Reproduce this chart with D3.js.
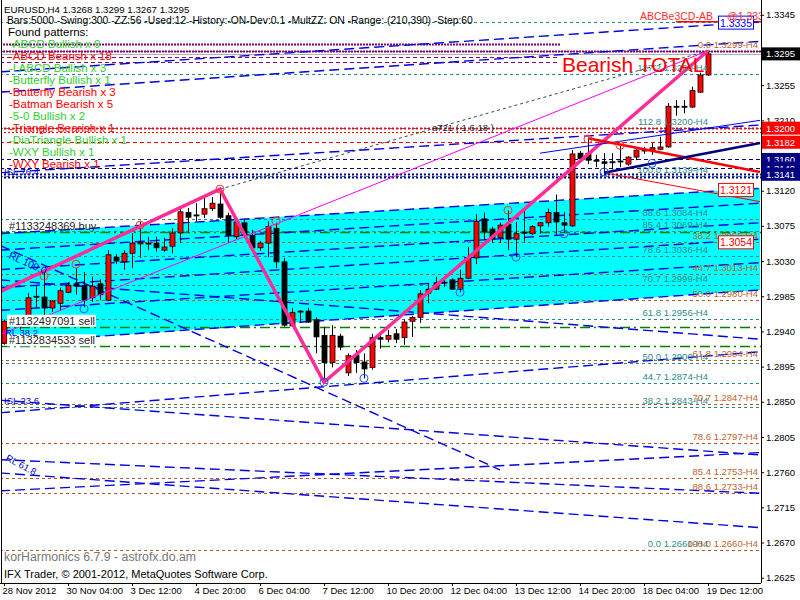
<!DOCTYPE html>
<html><head><meta charset="utf-8">
<script src="https://cdn.jsdelivr.net/npm/d3@7"></script>
<style>
body{margin:0;background:#fff}
svg{display:block}
text{font-family:"Liberation Sans",Arial,sans-serif}
</style></head>
<body><svg id="c" width="800" height="600"></svg>
<script>
// ---------- DATA ----------
const opens=[1.2925,1.2953,1.2955,1.2951,1.2985,1.2984,1.2970,1.2976,1.2990,1.3001,
1.2999,1.2983,1.3001,1.2980,1.3035,1.3029,1.3040,1.3052,1.3053,1.3053,
1.3044,1.3049,1.3066,1.3092,1.3089,1.3090,1.3097,1.3103,1.3088,1.3061,
1.3079,1.3063,1.3047,1.3053,1.3072,1.3029,1.2947,1.2965,1.2966,1.2955,
1.2935,1.2900,1.2934,1.2887,1.2910,1.2901,1.2894,1.2932,1.2930,1.2937,
1.2932,1.2953,1.2958,1.2989,1.2994,1.3003,1.3006,1.2994,1.3008,1.3034,
1.3084,1.3071,1.3060,1.3077,1.3058,1.3067,1.3065,1.3075,1.3079,1.3092,
1.3079,1.3075,1.3168,1.3168,1.3159,1.3157,1.3157,1.3158,1.3154,1.3163,
1.3172,1.3171,1.3173,1.3176,1.3228,1.3228,1.3227,1.3246,1.3268];
const highs=[1.2955,1.2960,1.2960,1.2989,1.2999,1.3015,1.2980,1.2996,1.3003,1.3021,
1.3016,1.3010,1.3007,1.3044,1.3039,1.3044,1.3066,1.3080,1.3061,1.3061,
1.3060,1.3072,1.3099,1.3098,1.3104,1.3112,1.3112,1.3122,1.3092,1.3083,
1.3084,1.3070,1.3056,1.3081,1.3079,1.3034,1.2970,1.2967,1.2970,1.2958,
1.2946,1.2948,1.2937,1.2912,1.2916,1.2912,1.2937,1.2938,1.2942,1.2943,
1.2955,1.2960,1.2993,1.3002,1.3010,1.3010,1.3008,1.3019,1.3048,1.3090,
1.3092,1.3074,1.3079,1.3095,1.3080,1.3095,1.3076,1.3080,1.3097,1.3115,
1.3093,1.3172,1.3171,1.3186,1.3166,1.3168,1.3168,1.3177,1.3164,1.3175,
1.3176,1.3181,1.3189,1.3232,1.3236,1.3236,1.3253,1.3271,1.3299];
const lows=[1.2923,1.2946,1.2942,1.2948,1.2970,1.2946,1.2965,1.2967,1.2989,1.2987,
1.2971,1.2978,1.2980,1.2979,1.3026,1.3019,1.3021,1.3034,1.3044,1.3042,
1.3042,1.3040,1.3053,1.3066,1.3081,1.3085,1.3094,1.3084,1.3054,1.3058,
1.3060,1.3042,1.3043,1.3035,1.3021,1.2946,1.2946,1.2952,1.2951,1.2912,
1.2875,1.2894,1.2916,1.2883,1.2887,1.2880,1.2891,1.2918,1.2926,1.2925,
1.2923,1.2933,1.2951,1.2976,1.2993,1.2997,1.2993,1.2990,1.3007,1.3026,
1.3057,1.3053,1.3053,1.3044,1.3035,1.3054,1.3063,1.3065,1.3074,1.3063,
1.3066,1.3074,1.3157,1.3154,1.3150,1.3143,1.3147,1.3150,1.3152,1.3159,
1.3167,1.3166,1.3172,1.3175,1.3216,1.3219,1.3226,1.3245,1.3267];
const closes=[1.2953,1.2952,1.2951,1.2983,1.2984,1.2970,1.2979,1.2992,1.2999,1.2998,
1.2980,1.2998,1.2987,1.3038,1.3030,1.3040,1.3053,1.3054,1.3052,1.3047,
1.3048,1.3066,1.3093,1.3086,1.3088,1.3097,1.3104,1.3086,1.3063,1.3080,
1.3063,1.3047,1.3053,1.3074,1.3029,1.2948,1.2964,1.2966,1.2952,1.2933,
1.2900,1.2935,1.2920,1.2909,1.2900,1.2892,1.2932,1.2930,1.2935,1.2930,
1.2952,1.2958,1.2988,1.2994,1.3002,1.3002,1.2994,1.3008,1.3034,1.3081,
1.3068,1.3058,1.3076,1.3058,1.3065,1.3066,1.3074,1.3079,1.3092,1.3080,
1.3076,1.3167,1.3161,1.3159,1.3158,1.3155,1.3156,1.3157,1.3163,1.3172,
1.3171,1.3175,1.3176,1.3228,1.3227,1.3227,1.3248,1.3268,1.3295];

const priceTicks=[1.3345,1.3300,1.3255,1.3210,1.3165,1.3120,1.3075,1.3030,1.2985,1.2940,1.2895,1.2850,1.2805,1.2760,1.2715,1.2670,1.2625];
const timeTickBars=[0,8,16,24,32,40,48,56,64,72,80,88];
const timeLabels=["28 Nov 2012","30 Nov 04:00","3 Dec 12:00","4 Dec 20:00","6 Dec 04:00","7 Dec 12:00","10 Dec 20:00","12 Dec 04:00","13 Dec 12:00","14 Dec 20:00","18 Dec 04:00","19 Dec 12:00"];

const tealFibPrices=[1.2660,1.2843,1.2874,1.2900,1.2956,1.2999,1.3036,1.3069,1.3084,1.3139,1.3200,1.3269];
const tealFibLabels=["0.0","38.2","44.7","50.0","61.8","70.7","78.6","85.4","88.6","100.0","112.8","127.2"];
const brownFibPrices=[1.3299,1.3055,1.3013,1.2980,1.2904,1.2847,1.2797,1.2753,1.2733,1.2660];
const brownFibLabels=["0.0","38.2","44.7","50.0","61.8","70.7","78.6","85.4","88.6","100.0"];
const redLevelPrices=[1.3200,1.3195,1.3182];
const navyLevelPrices=[1.3160,1.3149,1.3141,1.3138];
const purpleLevelPrices=[1.3308,1.3299,1.3291,1.3285];
const targetLevelPrice=1.3336;
const bidPrice=1.3295;
const orderPrices=[1.3067,1.2946,1.2921];
const orderLabels=["#1133248369 buy","#1132497091 sell","#1132834533 sell"];

const channelTop=[[-0.5,1.3065],[94.5,1.3123]];
const channelBottom=[[-0.5,1.2925],[94.5,1.2993]];

const blueDashLines=[
 [-0.5,1.3272,94.5,1.3336],
 [-0.5,1.3246,94.5,1.3311],
 [-0.5,1.3143,94.5,1.3204],
 [-0.5,1.3065,94.5,1.3123],
 [-0.5,1.3044,94.5,1.3104],
 [-0.5,1.3019,94.5,1.3079],
 [-0.5,1.2996,94.5,1.3058],
 [-0.5,1.2967,94.5,1.3028],
 [-0.5,1.2925,94.5,1.2993],
 [-0.5,1.3050,62,1.2763],
 [-0.5,1.2852,94.5,1.2782],
 [-0.5,1.2836,94.5,1.2914],
 [-0.5,1.2736,94.5,1.2785],
 [-0.5,1.2776,94.5,1.2733],
 [-0.5,1.2759,94.5,1.2689],
 [-0.5,1.3006,94.5,1.2930]
];
const zigzagPink=[[-8,1.2955],[27,1.3122],[40,1.2875],[88,1.3299]];
const magentaLine=[[-1,1.2934],[88,1.3299]];
const grayDashLine=[[27,1.3122],[88,1.3299]];
const redThick=[[73,1.3187],[94.5,1.3144]];
const redThin=[[75,1.3143],[94.5,1.3106]];
const navyThick=[[75,1.3143],[94.5,1.3181]];
const blueThin=[[67,1.3168],[94.5,1.3210]];

const redCircles=[[5,1.3011],[9,1.3026],[17,1.3076],[27,1.3122],[34,1.3081],[63,1.3095],[73,1.3186],[77,1.3178]];
const blueCircles=[[10,1.2969],[40,1.2875],[45,1.2880],[57,1.2990],[64,1.3035],[70,1.3065],[75,1.3144],[81,1.3155]];

const patternNames=["-ABCD Bullish x 9","-ABCD Bearish x 18","-I ABCD Bullish x 3","-Butterfly Bullish x 1","-Butterfly Bearish x 3","-Batman Bearish x 5","-5-0 Bullish x 2","-Triangle Bearish x 1","-DiaTriangle Bullish x 1","-WXY Bullish x 1","-WXY Bearish x 1"];
const patternBull=[1,0,1,1,0,0,1,0,1,1,0];

const redBoxes=[1.3200,1.3182];
const navyBoxes=[1.3160,1.3149,1.3141];

// ---------- DRAW ----------
const svg=d3.select("#c");
const plotR=761, plotB=583;
const x=d3.scaleLinear().domain([0,88]).range([4,708]);
const y=d3.scaleLinear().domain([1.2625,1.3345]).range([577.7,14.8]);

svg.append("rect").attr("width",800).attr("height",600).attr("fill","#fff");
const defs=svg.append("defs");
defs.append("clipPath").attr("id","plot").append("rect").attr("x",2).attr("y",0).attr("width",plotR-2).attr("height",plotB);
const P=svg.append("g").attr("clip-path","url(#plot)");

// cyan channel
const chan=[[channelTop[0][0],channelTop[0][1]],[channelTop[1][0],channelTop[1][1]],[channelBottom[1][0],channelBottom[1][1]],[channelBottom[0][0],channelBottom[0][1]]];
P.append("path").attr("d",d3.line().x(d=>x(d[0])).y(d=>y(d[1]))(chan)+"Z").attr("fill","#00FFFF");

function hline(p,color,dash,w,x0,x1){
  P.append("line").attr("x1",x0==null?0:x0).attr("x2",x1==null?plotR:x1)
   .attr("y1",Math.round(y(p))+0.5).attr("y2",Math.round(y(p))+0.5)
   .attr("stroke",color).attr("stroke-width",w||1).attr("stroke-dasharray",dash);
}
// horizontal levels
tealFibPrices.forEach(p=>hline(p,"#1E8A8A","3,3"));
brownFibPrices.forEach(p=>hline(p,"#B0582A","3,3"));
hline(targetLevelPrice,"#1E8A8A","3,3");
hline(purpleLevelPrices[0],"#800080","2,1",2,0,560);
hline(purpleLevelPrices[1],"#800080","2,1",2);
hline(purpleLevelPrices[2],"#800080","4,3",1,0,560);
hline(purpleLevelPrices[3],"#800080","4,3",1,0,560);
hline(bidPrice,"#B0B0B0",null,1);
hline(redLevelPrices[0],"#FF0000","2,2",2);
hline(redLevelPrices[1],"#FF0000","2,2",1);
hline(redLevelPrices[2],"#FF0000","4,3",1);
hline(navyLevelPrices[0],"#000080","4,3",1);
hline(navyLevelPrices[1],"#000080","4,3",1);
hline(navyLevelPrices[2],"#000080","2,2",2);
hline(navyLevelPrices[3],"#000080","2,2",2);
orderPrices.forEach(p=>hline(p,"#008000","10,4,2,4",1.5));
P.append("line").attr("x1",x(84)).attr("x2",plotR).attr("y1",y(targetLevelPrice)).attr("y2",y(targetLevelPrice)).attr("stroke","#FF0000").attr("stroke-width",1.5);

// blue dashed sloped lines
P.selectAll(".bl").data(blueDashLines).enter().append("line")
 .attr("x1",d=>x(d[0])).attr("y1",d=>y(d[1])).attr("x2",d=>x(d[2])).attr("y2",d=>y(d[3]))
 .attr("stroke","#0000E0").attr("stroke-width",1.4).attr("stroke-dasharray","10,5");

// candles
const bars=d3.range(opens.length);
const cg=P.append("g");
cg.selectAll(".w").data(bars).enter().append("line")
 .attr("x1",i=>Math.round(x(i))+0.5).attr("x2",i=>Math.round(x(i))+0.5)
 .attr("y1",i=>y(highs[i])).attr("y2",i=>y(lows[i])).attr("stroke","#000").attr("stroke-width",1);
cg.selectAll(".b").data(bars).enter().append("rect")
 .attr("x",i=>Math.round(x(i))-2).attr("width",5)
 .attr("y",i=>Math.min(y(opens[i]),y(closes[i])))
 .attr("height",i=>Math.max(1,Math.abs(y(opens[i])-y(closes[i]))))
 .attr("fill",i=>closes[i]>=opens[i]?"#FF0000":"#000")
 .attr("stroke","#000").attr("stroke-width",0.8);

// other lines
const ln=d3.line().x(d=>x(d[0])).y(d=>y(d[1]));
P.append("path").attr("d",ln(magentaLine)).attr("fill","none").attr("stroke","#FF00FF").attr("stroke-width",1);
P.append("path").attr("d",ln(grayDashLine)).attr("fill","none").attr("stroke","#2F4F4F").attr("stroke-width",1).attr("stroke-dasharray","3,3");
P.append("path").attr("d",ln(zigzagPink)).attr("fill","none").attr("stroke","#FF2D95").attr("stroke-width",3.5);
P.append("path").attr("d",ln(redThin)).attr("fill","none").attr("stroke","#FF0000").attr("stroke-width",1);
P.append("path").attr("d",ln(blueThin)).attr("fill","none").attr("stroke","#0000FF").attr("stroke-width",1);
P.append("path").attr("d",ln(redThick)).attr("fill","none").attr("stroke","#FF0000").attr("stroke-width",2.5);
P.append("path").attr("d",ln(navyThick)).attr("fill","none").attr("stroke","#000080").attr("stroke-width",2.5);

P.selectAll(".rc").data(redCircles).enter().append("circle").attr("cx",d=>x(d[0])).attr("cy",d=>y(d[1])).attr("r",4).attr("fill","none").attr("stroke","#FF3030");
P.selectAll(".bc").data(blueCircles).enter().append("circle").attr("cx",d=>x(d[0])).attr("cy",d=>y(d[1])).attr("r",4).attr("fill","none").attr("stroke","#2050FF");

// fib labels
const fs=9.5;
tealFibPrices.forEach((p,i)=>P.append("text").attr("x",708).attr("y",y(p)-3).attr("text-anchor","end").attr("font-size",fs).attr("fill","#2E8B8B").text(tealFibLabels[i]+" "+p.toFixed(4)+"-H4"));
brownFibPrices.forEach((p,i)=>P.append("text").attr("x",758).attr("y",y(p)-3).attr("text-anchor","end").attr("font-size",fs).attr("fill","#C0642E").text(brownFibLabels[i]+" "+p.toFixed(4)+"-H4"));

// order labels
orderPrices.forEach((p,i)=>{
  const t=P.append("text").attr("x",9).attr("y",y(p)-2).attr("font-size",11).attr("fill","#222").text(orderLabels[i]);
  if(i>0){const bb=t.node().getBBox();P.insert("rect",()=>t.node()).attr("x",bb.x-2).attr("y",bb.y).attr("width",bb.width+3).attr("height",bb.height).attr("fill","#fff");}
});

// in-chart boxes
function box(p,txt,color){
  const g=P.append("g");
  g.append("rect").attr("x",718.5).attr("y",y(p)-6.5).attr("width",35).attr("height",13).attr("fill","#fff").attr("stroke",color);
  g.append("text").attr("x",736).attr("y",y(p)+4).attr("text-anchor","middle").attr("font-size",10.5).attr("fill",color).text(txt);
}
box(1.3335,"1.3335","#0000FF");
box(1.3121,"1.3121","#FF0000");
box(1.3054,"1.3054","#FF0000");
P.append("text").attr("x",640).attr("y",20).attr("font-size",10.5).attr("fill","#FF3030").text("ABCBe3CD-AB");
P.append("text").attr("x",727).attr("y",20).attr("font-size",10.5).attr("fill","#FF3030").text("@1.3335");

// Bearish TOTAL
P.append("text").attr("x",562).attr("y",72).attr("font-size",21).attr("fill","#FF0000").text("Bearish TOTAL");

// misc labels
P.append("text").attr("x",4).attr("y",175).attr("font-size",9.5).attr("fill","#0000CD").text("ISL 76.4");
P.append("text").attr("x",4).attr("y",404).attr("font-size",9.5).attr("fill","#0000CD").text("ISL 23.6");
P.append("text").attr("x",8).attr("y",258).attr("font-size",10).attr("fill","#0000CD").attr("transform","rotate(24,8,258)").text("RL 100.0");
P.append("text").attr("x",5).attr("y",460).attr("font-size",9.5).attr("fill","#0000CD").attr("transform","rotate(28,5,460)").text("RL 61.8");
P.append("text").attr("x",5).attr("y",336).attr("font-size",9.5).attr("fill","#0000CD").text("RL 38.2");
P.append("text").attr("x",432).attr("y",131).attr("font-size",9.5).attr("fill","#202040").text("a721 ( 1.6.18 )");

// header texts
const T=svg.append("g");
T.append("text").attr("x",4).attr("y",13).attr("font-size",9.7).attr("fill","#000").text("EURUSD,H4  1.3268 1.3299 1.3267 1.3295");
T.append("text").attr("x",7).attr("y",24).attr("font-size",10.3).attr("fill","#000").text("Bars:5000 -Swing:300 -ZZ:56 -Used:12 -History:-ON-Dev:0.1 -MultZZ: ON -Range: (210,390) -Step:60");
T.append("text").attr("x",8).attr("y",36).attr("font-size",11.5).attr("fill","#000").text("Found patterns:");
patternNames.forEach((s,i)=>T.append("text").attr("x",9).attr("y",48+i*12).attr("font-size",11.5).attr("fill",patternBull[i]?"#32CD32":"#FF0000").text(s));
T.append("text").attr("x",4).attr("y",561).attr("font-size",12.3).attr("fill","#777").text("korHarmonics 6.7.9 - astrofx.do.am");
T.append("text").attr("x",4).attr("y",578).attr("font-size",11).attr("fill","#000").text("IFX Trader, \u00A9 2001-2012, MetaQuotes Software Corp.");

// axes
const ya=svg.append("g").attr("transform",`translate(${plotR},0)`)
 .call(d3.axisRight(y).tickValues(priceTicks).tickSize(3).tickPadding(2).tickFormat(d3.format(".4f")));
ya.select(".domain").remove();
ya.selectAll("text").attr("font-size",9.5).attr("fill","#000").attr("font-family","Liberation Sans, Arial");
ya.selectAll("line").attr("stroke","#000");
svg.append("line").attr("x1",plotR+0.5).attr("x2",plotR+0.5).attr("y1",0).attr("y2",plotB).attr("stroke","#000");
svg.append("line").attr("x1",1.5).attr("x2",1.5).attr("y1",0).attr("y2",plotB).attr("stroke","#000");
svg.append("line").attr("x1",0).attr("x2",plotR).attr("y1",plotB+0.5).attr("y2",plotB+0.5).attr("stroke","#000");

const xa=svg.append("g").attr("transform",`translate(0,${plotB})`)
 .call(d3.axisBottom(x).tickValues(timeTickBars).tickSize(3).tickPadding(1).tickFormat((d,i)=>timeLabels[i]));
xa.select(".domain").remove();
xa.selectAll("text").attr("font-size",9.5).attr("fill","#000").attr("text-anchor","start").attr("dx",-2).attr("font-family","Liberation Sans, Arial");
xa.selectAll("line").attr("stroke","#000");

// price boxes
function pbox(p,bg){
  const g=svg.append("g");
  g.append("rect").attr("x",762).attr("y",y(p)-6.5).attr("width",38).attr("height",13).attr("fill",bg);
  g.append("text").attr("x",766).attr("y",y(p)+3.5).attr("font-size",9.5).attr("fill","#fff").text(p.toFixed(4));
}
redBoxes.forEach(p=>pbox(p,"#FF0000"));
navyBoxes.forEach(p=>pbox(p,"#000080"));
pbox(bidPrice,"#000");
</script></body></html>
